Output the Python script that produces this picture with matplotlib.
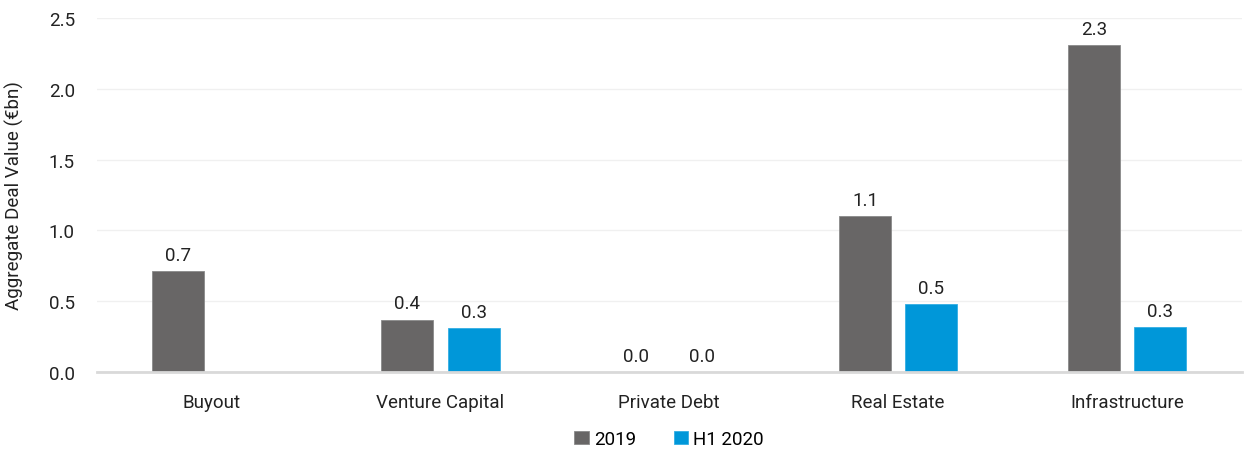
import matplotlib
matplotlib.use("Agg")
import matplotlib.pyplot as plt
import numpy as np

plt.rcParams['font.family'] = ['Roboto', 'DejaVu Sans']

categories = ['Buyout', 'Venture Capital', 'Private Debt', 'Real Estate', 'Infrastructure']
vals_2019 = [0.71, 0.37, 0.0, 1.10, 2.31]
vals_h1_2020 = [None, 0.31, 0.0, 0.48, 0.32]
series_names = ['2019', 'H1 2020']

grey = '#686666'
blue = '#0097d9'
fs = 13.5

fig = plt.figure(figsize=(12.44, 4.52), dpi=100)
ax = fig.add_axes([0.078, 0.175, 0.92, 0.783])

x = np.arange(len(categories))
w = 0.227
off = 0.145

ax.bar(x - off, vals_2019, w, color=grey, edgecolor='#8a8a8a', linewidth=0.6, label=series_names[0], zorder=3)
h1 = [v if v is not None else np.nan for v in vals_h1_2020]
ax.bar(x + off, h1, w, color=blue, edgecolor='#33aee3', linewidth=0.6, label=series_names[1], zorder=3)

for xi, v in zip(x, vals_2019):
    ax.text(xi - off, v + 0.05, f'{v:.1f}', ha='center', va='bottom', fontsize=fs, color='#222222')
for xi, v in zip(x, vals_h1_2020):
    if v is None:
        continue
    ax.text(xi + off, v + 0.05, f'{v:.1f}', ha='center', va='bottom', fontsize=fs, color='#222222')

ax.set_xlim(-0.5, len(categories) - 0.5)
ax.set_ylim(0, 2.5)
ax.set_yticks(np.arange(0, 2.51, 0.5))
ax.set_yticklabels([f'{t:.1f}' for t in np.arange(0, 2.51, 0.5)])
ax.set_xticks(x)
ax.set_xticklabels(categories)
ax.tick_params(axis='both', length=0, labelsize=fs, colors='#222222')
ax.tick_params(axis='x', pad=15)
ax.tick_params(axis='y', pad=16)
ax.yaxis.grid(True, color='#f0f0f0', linewidth=1, zorder=0)
ax.set_axisbelow(True)
for s in ['top', 'right', 'left']:
    ax.spines[s].set_visible(False)
ax.spines['bottom'].set_color('#d9d9d9')
ax.spines['bottom'].set_linewidth(2)
ax.spines['bottom'].set_zorder(4)

ax.set_ylabel('Aggregate Deal Value (€bn)', fontsize=fs, color='#222222')
ax.yaxis.set_label_coords(-0.064, 0.5)

ax.legend(loc='center', bbox_to_anchor=(0.5, -0.19), ncol=2, frameon=False,
          fontsize=fs, handlelength=0.75, handleheight=0.75, handletextpad=0.3,
          columnspacing=2.0, borderpad=0.1)

fig.savefig('out.png', dpi=100)
